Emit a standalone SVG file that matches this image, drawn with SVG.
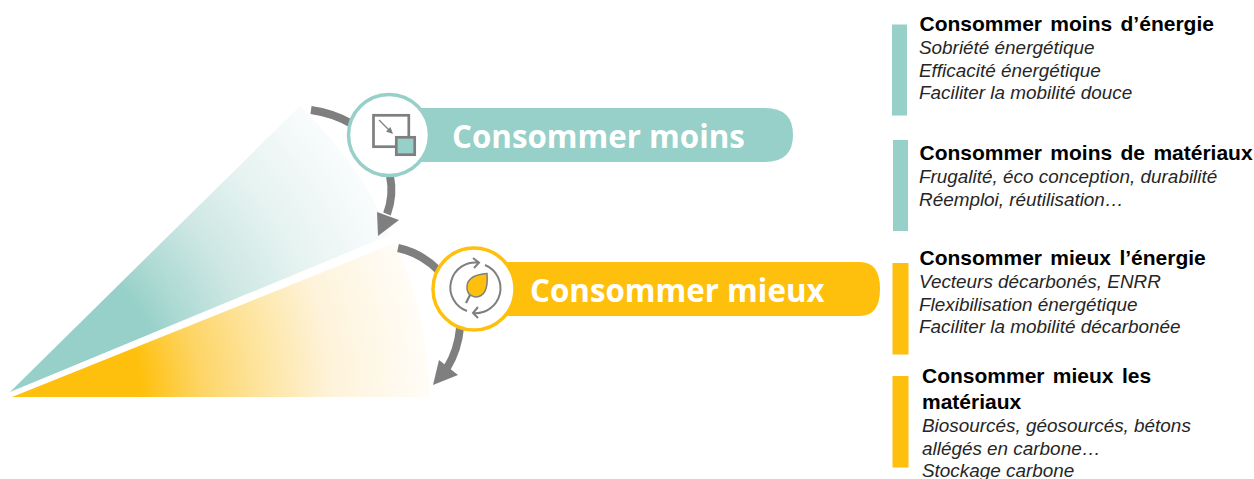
<svg xmlns="http://www.w3.org/2000/svg" width="1254" height="479" viewBox="0 0 1254 479">
<style>
.h{font:700 21px "Liberation Sans",Arial,sans-serif;fill:#000;word-spacing:2.500px}
.s{font:italic 400 18.9px "Liberation Sans",Arial,sans-serif;fill:#262626}
.b{font:700 31.300px "Open Sans","Noto Sans",sans-serif;fill:#fff}
.g{fill:none;stroke:#7f7f7f}
.a{fill:#7f7f7f}
</style>
<defs>
<radialGradient id="gt" gradientUnits="userSpaceOnUse" cx="10" cy="392" r="408">
<stop offset="0.37" stop-color="#96d0c8"/><stop offset="0.46" stop-color="#aedad4"/><stop offset="0.6" stop-color="#cde7e3"/><stop offset="0.78" stop-color="#e6f3f1"/><stop offset="1" stop-color="#f9fcfc"/>
</radialGradient>
<radialGradient id="gy" gradientUnits="userSpaceOnUse" cx="12" cy="397" r="420">
<stop offset="0.31" stop-color="#ffc00d"/><stop offset="0.45" stop-color="#fdd566"/><stop offset="0.57" stop-color="#fde296"/><stop offset="0.76" stop-color="#fef3da"/><stop offset="1" stop-color="#fffdf8"/>
</radialGradient>
</defs>
<g id="wedges">
<path d="M10 392L300 106Q362 166 390 235Z" fill="url(#gt)"/>
<path d="M12 397L395 243Q427 310 430 397Z" fill="url(#gy)"/>
</g>
<g id="connectors">
<path class="g" stroke-width="8" d="M311 110Q333 113 352 124"/>
<path class="g" stroke-width="8" d="M390 176Q394 195 387 214"/>
<path class="a" d="M377 212L399 220L378 236Z"/>
<path class="g" stroke-width="8" d="M398 248Q421 253 438 270"/>
<path class="g" stroke-width="8" d="M460 328Q458 350 447 368"/>
<path class="a" d="M439 360L458 375L433 385Z"/>
</g>
<g id="consommer-moins">
<path d="M395 108H765Q793 108 793 135Q793 162 765 162H395Z" fill="#96d0c8"/>
<circle cx="389" cy="135" r="40.500" fill="#fff" stroke="#96d0c8" stroke-width="3.500"/>
<rect x="373.500" y="115.300" width="35.300" height="31.400" fill="none" stroke="#7f7f7f" stroke-width="2.700"/>
<rect x="396.300" y="137.300" width="18.400" height="17.400" fill="#96d0c8" stroke="#7f7f7f" stroke-width="2.700"/>
<path d="M379 120L391 132" stroke="#7f7f7f" stroke-width="1.200"/>
<path class="a" d="M393 134L386 131.500L390.500 127Z"/>
<text class="b" x="452" y="148">Consommer moins</text>
</g>
<g id="consommer-mieux">
<path d="M480 262H860Q880 262 880 289Q880 316 860 316H480Z" fill="#ffc00d"/>
<circle cx="474" cy="289" r="41" fill="#fff" stroke="#ffc00d" stroke-width="3.500"/>
<path class="g" stroke-width="2" d="M467 311A25 25 0 0 1 479 262.700M473 258L479 262.700L474 268"/>
<path class="g" stroke-width="2" d="M485 265A25 25 0 0 1 473 313M478 307L473 313L478 318"/>
<path d="M487 273.500Q468 275 467 286Q466 295 475 297Q489 297 487 273.500Z" fill="#ffc00d" stroke="#7f7f7f" stroke-width="1.500"/>
<path class="g" stroke-width="2.200" d="M470 295L466 303"/>
<text class="b" x="530" y="302">Consommer mieux</text>
</g>
<g id="bloc-energie">
<rect x="892" y="24.500" width="15" height="91" fill="#96d0c8"/>
<text class="h" x="919.500" y="31">Consommer moins d’énergie</text>
<text class="s" x="919" y="54">Sobriété énergétique</text>
<text class="s" x="919" y="77">Efficacité énergétique</text>
<text class="s" x="919" y="99">Faciliter la mobilité douce</text>
</g>
<g id="bloc-materiaux">
<rect x="893" y="140" width="15" height="91" fill="#96d0c8"/>
<text class="h" x="919.500" y="160">Consommer moins de matériaux</text>
<text class="s" x="919" y="183">Frugalité, éco conception, durabilité</text>
<text class="s" x="919" y="206">Réemploi, réutilisation…</text>
</g>
<g id="bloc-mieux-energie">
<rect x="892.500" y="263" width="16" height="91.500" fill="#ffc00d"/>
<text class="h" x="919.500" y="265">Consommer mieux l’énergie</text>
<text class="s" x="919" y="288">Vecteurs décarbonés, ENRR</text>
<text class="s" x="919" y="311">Flexibilisation énergétique</text>
<text class="s" x="919" y="333">Faciliter la mobilité décarbonée</text>
</g>
<g id="bloc-mieux-materiaux">
<rect x="892.500" y="376" width="16" height="91.500" fill="#ffc00d"/>
<text class="h" x="922" y="383">Consommer mieux les</text>
<text class="h" x="922" y="409">matériaux</text>
<text class="s" x="922" y="432">Biosourcés, géosourcés, bétons</text>
<text class="s" x="922" y="455">allégés en carbone…</text>
<text class="s" x="922" y="477">Stockage carbone</text>
</g>
</svg>
